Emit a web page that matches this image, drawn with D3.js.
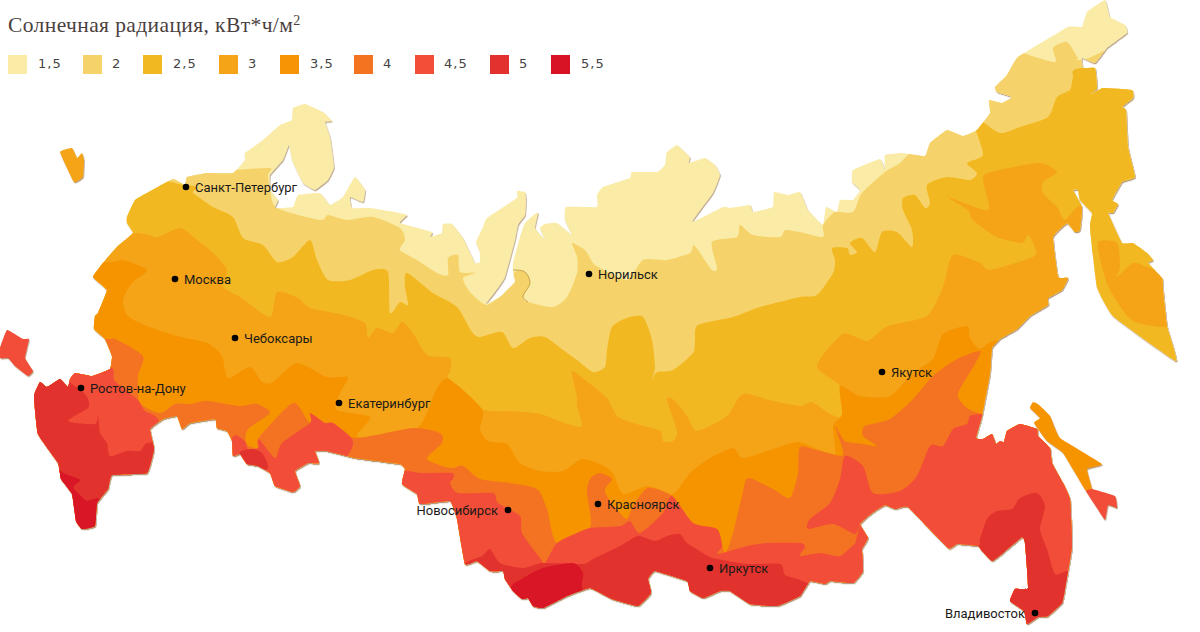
<!DOCTYPE html>
<html>
<head>
<meta charset="utf-8">
<script src="https://cdn.jsdelivr.net/npm/d3@7"></script>
<style>
  body { margin: 0; background: #fff; }
  svg { display: block; }
</style>
</head>
<body>
<svg id="map"></svg>
<script>
const levels = ["1,5", "2", "2,5", "3", "3,5", "4", "4,5", "5", "5,5"];
const colors = ["#faeba6", "#f6d36a", "#f2b820", "#f4a416", "#f69406", "#f47320", "#f24e38", "#e2312e", "#d81326"];

// map outline, in map units
const mainland = [[127,217],[135,200],[147,193],[173,179],[185,185],[187,177],[207,173],[233,173],[245,160],[245,153],[263,140],[280,125],[292,120],[293,108],[305,104],[323,112],[332,121],[325,122],[330,137],[334,167],[328,180],[315,190],[303,183],[292,160],[289,145],[283,160],[270,175],[270,190],[278,200],[275,208],[293,207],[298,195],[320,193],[330,205],[343,197],[355,177],[365,190],[363,202],[350,197],[352,208],[370,208],[400,213],[407,215],[400,223],[432,232],[430,237],[442,233],[443,224],[452,224],[463,238],[475,263],[480,262],[480,252],[476,242],[483,227],[487,218],[517,198],[517,191],[525,192],[526,200],[525,215],[518,225],[515,240],[505,277],[498,288],[486,304],[500,297],[515,282],[513,272],[513,263],[520,237],[525,223],[538,212],[535,228],[545,240],[540,228],[545,224],[557,223],[572,235],[565,220],[566,207],[597,207],[597,195],[603,187],[630,178],[632,172],[657,172],[665,165],[667,152],[677,145],[685,152],[690,157],[689,163],[705,158],[715,165],[720,175],[713,193],[692,222],[723,207],[730,208],[750,205],[753,212],[773,207],[774,192],[788,195],[800,192],[808,210],[823,225],[826,207],[837,212],[840,200],[853,200],[860,190],[852,182],[853,170],[880,159],[885,170],[885,155],[902,153],[925,156],[930,143],[947,130],[963,136],[977,130],[990,113],[989,100],[1002,103],[1012,97],[997,92],[995,87],[1007,75],[1018,57],[1068,27],[1082,27],[1087,12],[1105,0],[1110,17],[1125,25],[1127,33],[1107,48],[1095,63],[1082,58],[1083,68],[1095,68],[1097,88],[1090,95],[1103,88],[1132,90],[1133,98],[1122,107],[1126,110],[1128,147],[1135,177],[1122,182],[1112,200],[1118,204],[1113,213],[1108,213],[1122,243],[1133,243],[1147,253],[1153,260],[1148,263],[1162,278],[1163,290],[1167,326],[1176,361],[1113,316],[1097,287],[1090,227],[1092,213],[1080,200],[1078,190],[1073,190],[1082,207],[1080,230],[1075,232],[1067,223],[1053,237],[1058,277],[1068,278],[1062,290],[1048,298],[1048,305],[1030,316],[1017,329],[1000,339],[992,348],[990,373],[982,416],[976,438],[983,439],[992,434],[996,444],[1000,441],[1004,442],[1007,431],[1020,424],[1037,429],[1038,436],[1050,448],[1052,463],[1063,483],[1070,499],[1072,546],[1065,589],[1062,603],[1048,616],[1038,617],[1027,624],[1024,611],[1010,601],[1015,589],[1028,588],[1025,543],[1022,537],[1003,553],[992,561],[982,551],[978,546],[957,544],[948,548],[908,507],[895,509],[885,505],[872,513],[860,524],[868,538],[862,549],[863,571],[853,583],[830,581],[825,584],[810,581],[800,596],[777,606],[750,604],[730,591],[720,591],[703,598],[690,591],[687,581],[655,571],[648,579],[651,593],[638,606],[612,599],[590,588],[567,596],[543,608],[533,606],[528,598],[522,599],[513,591],[505,579],[503,571],[490,571],[477,561],[465,564],[457,519],[450,501],[420,504],[417,494],[402,484],[405,469],[400,464],[377,461],[355,458],[327,451],[315,451],[319,463],[308,463],[295,471],[300,486],[293,492],[275,486],[270,473],[258,466],[247,464],[240,454],[233,456],[232,441],[227,431],[217,428],[215,419],[190,423],[182,429],[177,416],[163,419],[150,429],[154,449],[147,473],[112,475],[108,489],[97,503],[95,526],[82,529],[76,521],[72,494],[61,479],[58,463],[38,434],[34,396],[40,382],[47,387],[60,379],[68,387],[70,379],[75,373],[92,376],[110,369],[112,356],[105,339],[94,329],[95,316],[98,313],[107,290],[93,277],[103,263],[117,247],[133,233],[127,223]];
const kaliningrad = [[60,152],[72,148],[77,158],[82,153],[84,160],[83,177],[74,182]];
const crimea = [[7,330],[23,339],[29,339],[25,358],[33,371],[28,376],[15,366],[8,358],[0,358],[0,348]];
const sakhalin = [[1033,402],[1038,404],[1050,416],[1060,438],[1102,464],[1087,469],[1092,489],[1086,491],[1063,453],[1047,441],[1034,423],[1040,418],[1030,408]];
const sakhalinTip = [[1086,491],[1092,489],[1115,496],[1117,508],[1108,505],[1105,520],[1097,508]];

// zone edges: each ring holds the area at or above that level
const zone2 = [[0,168],[185,172],[233,170],[270,168],[268,175],[270,190],[277,208],[320,220],[328,215],[347,220],[373,217],[400,228],[405,240],[400,250],[417,260],[437,273],[448,275],[448,258],[458,255],[460,272],[475,273],[463,278],[470,292],[487,305],[505,290],[515,272],[525,272],[530,283],[523,297],[528,302],[553,307],[567,297],[577,273],[577,257],[572,243],[585,250],[593,263],[600,268],[627,280],[643,260],[667,260],[690,253],[693,245],[698,250],[712,270],[717,268],[712,242],[737,237],[740,225],[753,235],[780,237],[785,230],[800,232],[823,237],[823,225],[835,212],[853,212],[862,193],[885,172],[900,163],[913,150],[1018,50],[1023,53],[1055,62],[1053,48],[1067,42],[1078,58],[1082,60],[1200,60],[1200,640],[0,640]];
const zone25 = [[0,180],[185,185],[193,193],[213,207],[233,217],[243,238],[263,245],[277,262],[293,257],[310,240],[317,260],[328,280],[350,280],[373,270],[388,272],[390,313],[400,302],[408,305],[405,287],[407,273],[433,293],[457,307],[472,332],[480,337],[502,332],[513,348],[530,338],[545,337],[563,350],[577,360],[593,372],[605,367],[607,350],[612,327],[627,318],[643,317],[652,340],[655,367],[652,380],[657,372],[673,370],[693,353],[695,340],[698,325],[733,317],[760,307],[800,297],[817,295],[833,273],[835,260],[832,248],[847,248],[850,255],[857,252],[850,243],[862,238],[875,252],[882,232],[897,232],[912,247],[912,230],[903,210],[903,198],[915,195],[925,208],[930,203],[927,185],[947,177],[970,180],[977,173],[967,163],[983,155],[975,128],[972,120],[980,120],[1000,133],[1020,127],[1048,117],[1057,97],[1070,90],[1073,78],[1082,68],[1200,68],[1200,640],[0,640]];
const zone3 = [[0,233],[133,233],[157,237],[180,228],[197,240],[213,253],[227,270],[223,287],[240,297],[270,317],[277,292],[298,298],[310,308],[343,315],[365,323],[368,338],[377,328],[393,333],[402,322],[413,333],[427,355],[450,358],[450,372],[449,379],[482,409],[510,411],[540,414],[567,424],[582,426],[577,406],[577,396],[572,371],[590,384],[607,398],[617,416],[633,423],[660,431],[663,441],[673,441],[677,431],[667,399],[675,401],[687,416],[697,431],[727,416],[743,394],[773,401],[800,406],[812,402],[830,414],[842,416],[840,386],[817,366],[843,334],[867,341],[888,326],[927,316],[943,287],[953,255],[980,263],[990,270],[1033,257],[1035,247],[1028,235],[1022,243],[997,237],[973,220],[968,210],[948,197],[988,210],[983,177],[1000,170],[1040,163],[1057,172],[1043,182],[1043,193],[1057,207],[1065,220],[1082,208],[1085,300],[1085,640],[0,640]];
const zone3Kamchatka = [[1098,242],[1117,243],[1120,267],[1117,277],[1133,263],[1147,267],[1175,280],[1175,325],[1133,321],[1110,290],[1102,267]];
const zone35 = [[0,262],[107,262],[123,260],[147,270],[132,283],[123,300],[128,316],[147,326],[177,336],[207,343],[222,356],[228,378],[250,367],[262,382],[273,382],[297,363],[327,377],[348,377],[340,393],[337,410],[370,417],[358,437],[417,428],[437,388],[449,379],[482,409],[480,429],[488,441],[507,444],[520,463],[540,471],[563,471],[582,459],[600,464],[613,473],[623,494],[648,486],[673,494],[690,473],[710,458],[733,448],[743,458],[773,449],[798,442],[817,449],[835,454],[833,426],[842,414],[840,386],[860,396],[890,396],[913,373],[933,359],[943,334],[967,326],[970,338],[980,349],[1000,340],[1100,340],[1100,640],[0,640]];
const zone4 = [[0,339],[105,339],[115,339],[143,356],[138,376],[140,403],[160,413],[175,404],[190,404],[207,401],[240,406],[257,404],[270,413],[248,429],[246,444],[260,449],[258,439],[293,403],[310,423],[333,423],[355,438],[413,428],[440,433],[442,443],[427,459],[450,468],[463,466],[480,479],[510,483],[537,489],[547,509],[557,543],[590,528],[587,493],[590,479],[600,473],[612,479],[605,489],[608,498],[620,513],[627,519],[633,506],[648,488],[672,496],[693,523],[717,529],[725,553],[733,533],[742,496],[748,478],[773,489],[790,498],[798,473],[800,447],[817,450],[843,455],[835,426],[845,441],[863,444],[877,446],[863,436],[865,426],[890,419],[913,399],[933,376],[957,359],[980,351],[975,364],[958,394],[967,408],[982,414],[1000,416],[1100,416],[1100,640],[0,640]];
const zone45West = [[60,360],[100,365],[113,369],[115,381],[137,399],[145,411],[160,423],[175,500],[0,500],[0,369]];
const zone45Middle = [[232,439],[245,441],[248,449],[258,448],[259,439],[275,458],[282,443],[310,423],[310,413],[325,423],[333,423],[352,439],[348,455],[300,520],[232,520]];
const zone45Siberia = [[405,471],[420,473],[452,473],[453,479],[450,483],[458,493],[493,493],[498,503],[520,516],[522,533],[540,558],[545,563],[557,543],[577,533],[590,528],[620,526],[630,521],[640,533],[663,513],[672,496],[693,523],[717,529],[722,546],[718,554],[747,546],[767,543],[800,543],[805,547],[800,556],[820,553],[840,556],[855,544],[866,546],[900,640],[400,640],[395,480]];
const zone45East = [[860,524],[855,534],[833,524],[808,529],[810,519],[830,503],[840,479],[845,456],[863,466],[873,493],[900,491],[917,476],[930,446],[943,446],[953,429],[967,424],[970,416],[982,414],[1000,416],[1080,416],[1080,640],[850,640],[850,570]];
const zone5West = [[60,370],[68,381],[82,391],[88,399],[88,408],[68,421],[95,424],[98,414],[100,433],[107,443],[110,456],[127,451],[140,451],[147,443],[160,450],[160,540],[0,540],[0,370]];
const zone5Coast = [[240,452],[252,449],[262,453],[268,468],[250,475],[240,465]];
const zone5Siberia = [[460,570],[482,556],[490,549],[500,563],[523,568],[543,563],[583,564],[593,559],[620,546],[638,536],[655,541],[667,536],[680,534],[687,543],[708,556],[717,559],[747,564],[780,564],[785,575],[800,580],[812,590],[800,640],[460,640]];
const zone5East = [[978,546],[980,539],[987,519],[997,511],[1012,509],[1020,498],[1037,493],[1045,506],[1040,529],[1047,549],[1055,574],[1067,571],[1090,571],[1090,640],[950,640],[950,560]];
const zone55West = [[50,470],[65,474],[80,480],[73,487],[80,495],[87,501],[100,500],[100,540],[50,540]];
const zone55Siberia = [[510,590],[522,579],[543,568],[573,563],[583,573],[582,588],[590,640],[510,640]];

const zones = [
  { level: 1, rings: [zone2] },
  { level: 2, rings: [zone25] },
  { level: 3, rings: [zone3, zone3Kamchatka] },
  { level: 4, rings: [zone35] },
  { level: 5, rings: [zone4] },
  { level: 6, rings: [zone45West, zone45Middle, zone45Siberia, zone45East] },
  { level: 7, rings: [zone5West, zone5Coast, zone5Siberia, zone5East] },
  { level: 8, rings: [zone55West, zone55Siberia] }
];

const islands = [
  { level: 3, ring: kaliningrad },
  { level: 6, ring: crimea },
  { level: 4, ring: sakhalin },
  { level: 6, ring: sakhalinTip }
];

const foldLine = [[513,270],[525,272],[530,283],[523,297],[528,302]];

const cityNames = ["Санкт-Петербург", "Москва", "Чебоксары", "Ростов-на-Дону", "Екатеринбург", "Норильск", "Якутск", "Новосибирск", "Красноярск", "Иркутск", "Владивосток"];
const cityX = [186, 175, 235, 81, 339, 589, 882, 508, 598, 710, 1035];
const cityY = [187, 279, 338, 388, 403, 274, 372, 510, 504, 568, 613];
const cityLeft = ["Новосибирск", "Владивосток"];

const width = 1200;
const height = 632;

const svg = d3.select("#map")
  .attr("width", width)
  .attr("height", height);

const x = d3.scaleLinear().domain([0, 1200]).range([0, width]);
const y = d3.scaleLinear().domain([0, 632]).range([0, height]);

const outlinePath = d3.line().x(d => x(d[0])).y(d => y(d[1])).curve(d3.curveCardinalClosed.tension(0.7));
const zonePath = d3.line().x(d => x(d[0])).y(d => y(d[1])).curve(d3.curveCardinalClosed.tension(0.3));

const defs = svg.append("defs");
defs.append("clipPath").attr("id", "land")
  .append("path").attr("d", outlinePath(mainland));

const shadow = defs.append("filter").attr("id", "edge")
  .attr("x", "-5%").attr("y", "-5%").attr("width", "110%").attr("height", "110%");
shadow.append("feDropShadow")
  .attr("dx", 0.7).attr("dy", 1.2).attr("stdDeviation", 0.4)
  .attr("flood-color", "#7a4a08").attr("flood-opacity", 0.55);

const mapGroup = svg.append("g").attr("filter", "url(#edge)");

mapGroup.append("path").attr("d", outlinePath(mainland)).attr("fill", colors[0]);

const landGroup = mapGroup.append("g").attr("clip-path", "url(#land)");
zones.forEach(z => {
  landGroup.append("g").attr("fill", colors[z.level])
    .selectAll("path")
    .data(z.rings)
    .enter().append("path")
    .attr("d", zonePath);
});

mapGroup.selectAll("path.island")
  .data(islands)
  .enter().append("path")
  .attr("class", "island")
  .attr("fill", d => colors[d.level])
  .attr("d", d => outlinePath(d.ring));

landGroup.append("path")
  .attr("d", d3.line().x(d => x(d[0])).y(d => y(d[1])).curve(d3.curveCatmullRom)(foldLine))
  .attr("fill", "none")
  .attr("stroke", "#a9781c")
  .attr("stroke-opacity", 0.6)
  .attr("stroke-width", 1);

// title
const title = svg.append("text")
  .attr("x", 8).attr("y", 32)
  .attr("font-family", "Liberation Serif, serif")
  .attr("font-size", 21.5)
  .attr("letter-spacing", 0.4)
  .attr("fill", "#4b3f40")
  .text("Солнечная радиация, кВт*ч/м");
title.append("tspan")
  .attr("dy", -7).attr("font-size", 14)
  .text("2");

// legend
const legendBoxX = [8, 83, 143, 219, 280, 354, 415, 490, 551];
const legendLabelX = [38, 112, 173, 248, 310, 383, 444, 519, 581];

svg.append("g").selectAll("rect")
  .data(levels)
  .enter().append("rect")
  .attr("x", (d, i) => legendBoxX[i])
  .attr("y", 55)
  .attr("width", 19)
  .attr("height", 19)
  .attr("fill", (d, i) => colors[i]);

svg.append("g").selectAll("text")
  .data(levels)
  .enter().append("text")
  .attr("x", (d, i) => legendLabelX[i])
  .attr("y", 68)
  .attr("font-family", "DejaVu Sans, sans-serif")
  .attr("font-size", 13)
  .attr("letter-spacing", 1)
  .attr("fill", "#444")
  .text(d => d);

// cities
const city = svg.append("g").selectAll("g")
  .data(cityNames)
  .enter().append("g");

city.append("circle")
  .attr("cx", (d, i) => x(cityX[i]))
  .attr("cy", (d, i) => y(cityY[i]))
  .attr("r", 3.3)
  .attr("fill", "#000");

city.append("text")
  .attr("x", (d, i) => x(cityX[i]) + (cityLeft.includes(d) ? -10 : 9))
  .attr("y", (d, i) => y(cityY[i]) + 4.5)
  .attr("text-anchor", d => cityLeft.includes(d) ? "end" : "start")
  .attr("font-family", "Roboto, sans-serif")
  .attr("font-size", 13)
  .attr("fill", "#1c1a18")
  .text(d => d);
</script>
</body>
</html>
